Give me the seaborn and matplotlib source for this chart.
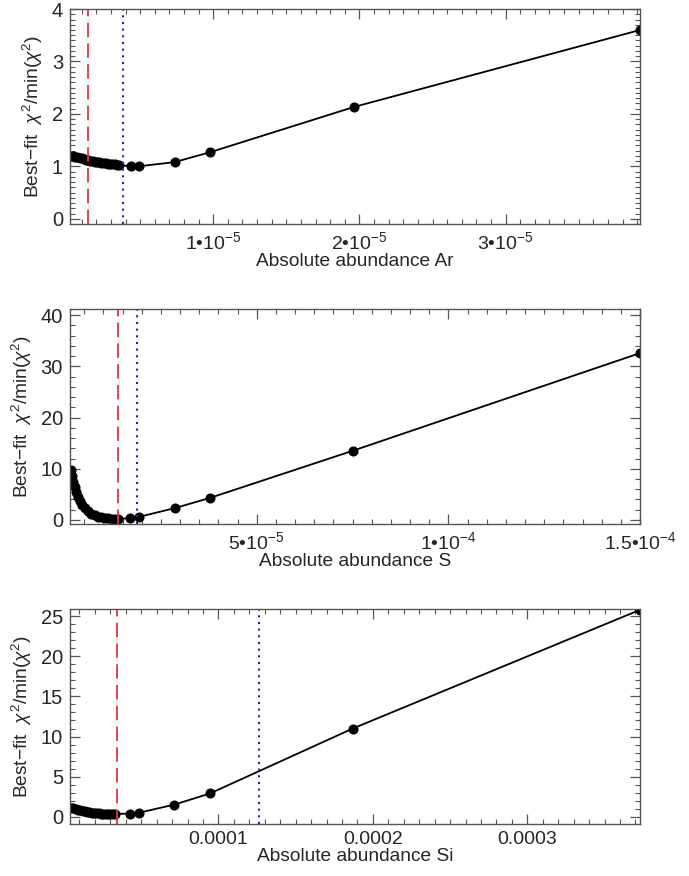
import numpy as np
import pandas as pd
import matplotlib
matplotlib.use("Agg")
import matplotlib.pyplot as plt
from matplotlib.ticker import MultipleLocator
import seaborn as sns

# --- data ---
# Ar panel (abundance in units of 1e-5)
ar_x = [0.04, 0.055, 0.07, 0.085, 0.10, 0.115, 0.13, 0.145, 0.16, 0.175, 0.19,
        0.205, 0.22, 0.235, 0.25, 0.265, 0.28, 0.295, 0.31, 0.325, 0.34, 0.355,
        0.435, 0.49, 0.735, 0.98, 1.96, 3.92]
ar_y = [1.20, 1.185, 1.17, 1.16, 1.15, 1.14, 1.13, 1.12, 1.11, 1.10, 1.09,
        1.08, 1.075, 1.07, 1.06, 1.055, 1.05, 1.045, 1.04, 1.035, 1.03, 1.025,
        1.00, 1.00, 1.08, 1.27, 2.13, 3.60]
ar_red = 0.145
ar_blue = 0.38

# S panel (units of 1e-5)
s_x = [0.15, 0.18, 0.21, 0.25, 0.29, 0.34, 0.39, 0.45, 0.52, 0.60, 0.68, 0.77,
       0.86, 0.95, 1.04, 1.13, 1.22, 1.31, 1.38,
       1.69, 1.93, 2.86, 3.78, 7.5, 15.0]
s_y = [9.7, 8.6, 7.5, 6.4, 5.4, 4.5, 3.7, 3.0, 2.3, 1.7, 1.25, 0.9,
       0.65, 0.48, 0.36, 0.28, 0.23, 0.2, 0.2,
       0.35, 0.6, 2.3, 4.3, 13.5, 32.6]
s_red = 1.39
s_blue = 1.88

# Si panel (units of 1e-5)
si_x = [0.45, 0.6, 0.75, 0.9, 1.05, 1.2, 1.35, 1.5, 1.65, 1.8, 1.95, 2.1,
        2.25, 2.4, 2.55, 2.7, 2.85, 3.0, 3.15, 3.3,
        4.27, 4.85, 7.12, 9.45, 18.7, 37.3]
si_y = [1.15, 1.05, 0.96, 0.88, 0.8, 0.73, 0.67, 0.61, 0.56, 0.52, 0.48, 0.45,
        0.42, 0.40, 0.38, 0.37, 0.36, 0.35, 0.35, 0.35,
        0.4, 0.5, 1.5, 2.9, 11.0, 25.8]
si_red = 3.43
si_blue = 12.62

ar_ticks = [1e-5, 2e-5, 3e-5]
ar_labels = ['1•10$^{-5}$', '2•10$^{-5}$', '3•10$^{-5}$']
s_ticks = [5e-5, 1e-4, 1.5e-4]
s_labels = ['5•10$^{-5}$', '1•10$^{-4}$', '1.5•10$^{-4}$']
si_ticks = [1e-4, 2e-4, 3e-4]
si_labels = ['0.0001', '0.0002', '0.0003']

sns.set_style("ticks")
plt.rcParams['font.family'] = ['Liberation Sans', 'DejaVu Sans']
plt.rcParams['mathtext.fontset'] = 'custom'
plt.rcParams['mathtext.rm'] = 'Liberation Sans'
plt.rcParams['mathtext.it'] = 'Liberation Sans:italic'
plt.rcParams['font.size'] = 13

fig = plt.figure(figsize=(6.89, 8.76), dpi=100)

panels = [
    dict(x=ar_x, y=ar_y, red=ar_red, blue=ar_blue, xlim=(0.02e-5, 3.92e-5),
         ylim=(-0.1, 4.0), yticks=[0, 1, 2, 3, 4], yminor=0.1, xminor=1e-6,
         xt=ar_ticks, xl=ar_labels, name='Ar', bottom=0.7443),
    dict(x=s_x, y=s_y, red=s_red, blue=s_blue, xlim=(0.13e-5, 1.5e-4),
         ylim=(-0.8, 41.2), yticks=[0, 10, 20, 30, 40], yminor=2, xminor=5e-6,
         xt=s_ticks, xl=s_labels, name='S', bottom=0.4018),
    dict(x=si_x, y=si_y, red=si_red, blue=si_blue, xlim=(0.39e-5, 3.73e-4),
         ylim=(-0.9, 25.9), yticks=[0, 5, 10, 15, 20, 25], yminor=1, xminor=1e-5,
         xt=si_ticks, xl=si_labels, name='Si', bottom=0.0594),
]

for p in panels:
    ax = fig.add_axes([0.1016, p['bottom'], 0.8274, 0.2454])
    df = pd.DataFrame({'abund': np.array(p['x']) * 1e-5, 'chi': p['y']})
    sns.lineplot(data=df, x='abund', y='chi', ax=ax, color='black', lw=1.3,
                 marker='o', markersize=6.5, markeredgecolor='black',
                 sort=False, clip_on=True)
    ax.axvline(p['red'] * 1e-5, color='#e8303a', lw=1.3, dashes=(8, 3.5))
    ax.axvline(p['blue'] * 1e-5, color='#2020c8', lw=1.5, linestyle=(0, (1, 2.2)))
    ax.set_xlim(p['xlim'])
    ax.set_ylim(p['ylim'])
    ax.set_xticks(p['xt'], p['xl'])
    ax.set_yticks(p['yticks'])
    ax.xaxis.set_minor_locator(MultipleLocator(p['xminor']))
    ax.yaxis.set_minor_locator(MultipleLocator(p['yminor']))
    ax.tick_params(which='both', direction='in', top=True, right=True,
                   color='#555555')
    ax.tick_params(axis='y', labelsize=14.5)
    ax.tick_params(axis='x', labelsize=14)
    ax.tick_params(which='major', length=7, width=0.9, pad=5)
    ax.tick_params(which='minor', length=3.5, width=0.8)
    for sp in ax.spines.values():
        sp.set_color('#555555')
        sp.set_linewidth(1.0)
    ax.set_xlabel('Absolute abundance ' + p['name'], fontsize=13.8, labelpad=0)
    ax.set_ylabel('Best−fit  $\\chi^2$/min($\\chi^2$)', fontsize=13.8, labelpad=5)

fig.savefig('out.png', dpi=100)
